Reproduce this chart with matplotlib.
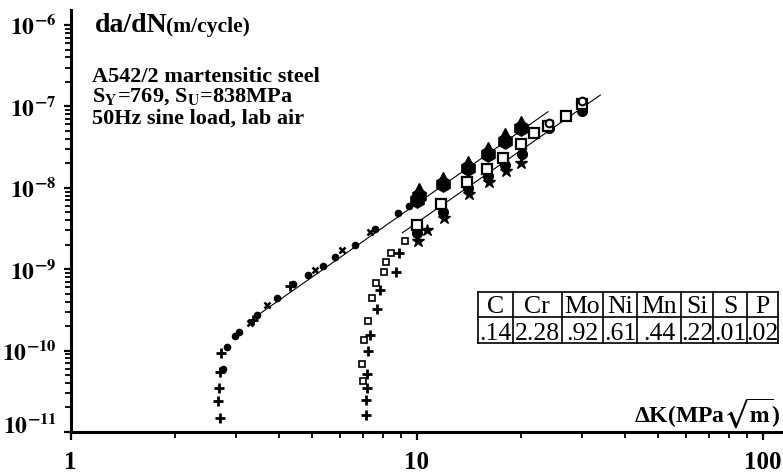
import matplotlib.pyplot as plt
import matplotlib.transforms as mtransforms
from matplotlib.ticker import FixedLocator, FixedFormatter, LogLocator, NullFormatter

# --- data (dK in MPa*sqrt(m), da/dN in m/cycle) ---
# left curve (lower threshold)
left_plus_dk = [2.70, 2.67, 2.69, 2.70, 2.73, 3.36, 4.31]
left_plus_da = [1.5e-11, 2.4e-11, 3.5e-11, 5.5e-11, 9.3e-11, 2.4e-10, 6.2e-10]
left_dot_dk = [2.76, 2.84, 2.99, 3.07, 3.47, 3.94, 4.40, 4.87, 5.35, 5.82, 6.64, 7.59, 8.86, 9.5]
left_dot_da = [6.0e-11, 1.12e-10, 1.5e-10, 1.7e-10, 2.7e-10, 4.4e-10, 6.6e-10, 8.5e-10,
               1.1e-9, 1.4e-9, 2.0e-9, 3.1e-9, 4.9e-9, 6.0e-9]
left_x_dk = [3.30, 3.69, 5.09, 6.08, 7.35]
left_x_da = [2.2e-10, 3.6e-10, 9.8e-10, 1.74e-9, 2.9e-9]
left_blob_dk = [10.0, 10.2, 11.9, 14.1, 16.1, 18.0, 20.1]
left_blob_da = [7.0e-9, 8.0e-9, 1.1e-8, 1.75e-8, 2.6e-8, 3.8e-8, 5.4e-8]

# right curve (higher threshold)
right_sq_dk = [7.0, 6.94, 7.07, 7.25, 7.46, 7.65, 8.06, 8.16, 8.46, 9.26]
right_sq_da = [4.2e-11, 6.9e-11, 1.35e-10, 2.3e-10, 4.4e-10, 6.8e-10, 9.3e-10, 1.23e-9, 1.6e-9, 2.2e-9]
right_plus_dk = [7.14, 7.14, 7.2, 7.2, 7.25, 7.34, 7.68, 7.85, 8.71, 8.93]
right_plus_da = [1.6e-11, 2.5e-11, 3.5e-11, 5.2e-11, 9.8e-11, 1.55e-10, 3.2e-10, 5.5e-10, 9.3e-10, 1.6e-9]
upper_sq_dk = [10.0, 11.8, 14.0, 16.0, 17.8, 20.0, 21.8, 24.0, 27.0, 30.0]
upper_sq_da = [3.5e-9, 6.3e-9, 1.17e-8, 1.7e-8, 2.3e-8, 3.5e-8, 4.7e-8, 5.8e-8, 7.6e-8, 1.07e-7]
upper_star_dk = [10.1, 10.7, 12.0, 14.2, 16.2, 18.1, 20.1]
upper_star_da = [2.2e-9, 3.0e-9, 4.3e-9, 8.3e-9, 1.17e-8, 1.6e-8, 2.0e-8]
upper_dot_dk = [10.0, 11.9, 14.1, 16.1, 18.0, 20.2, 24.2, 30.1]
upper_dot_da = [2.8e-9, 5.0e-9, 1.0e-8, 1.4e-8, 1.9e-8, 2.6e-8, 5.4e-8, 8.9e-8]
upper_ring_dk = [24.2, 30.0]
upper_ring_da = [6.3e-8, 1.17e-7]

# fitted straight lines
line1_dk = [3.4, 24.0]
line1_da = [2.55e-10, 8.6e-8]
line2_dk = [9.1, 34.0]
line2_da = [2.8e-9, 1.38e-7]

# chemical composition table
elements = ['C', 'Cr', 'Mo', 'Ni', 'Mn', 'Si', 'S', 'P']
wt_pct = ['.14', '2.28', '.92', '.61', '.44', '.22', '.01', '.02']

x_ticks = [1, 10, 100]
x_labels = ['1', '10', '100']
y_ticks = [1e-11, 1e-10, 1e-9, 1e-8, 1e-7, 1e-6]
y_labels = ['$10^{-11}$', '$10^{-10}$', '$10^{-9}$', '$10^{-8}$', '$10^{-7}$', '$10^{-6}$']

plt.rcParams['font.family'] = ['Liberation Serif', 'DejaVu Serif']
plt.rcParams['font.weight'] = 'bold'
plt.rcParams['mathtext.fontset'] = 'stix'
plt.rcParams['mathtext.default'] = 'bf'

W, H = 783, 474
fig = plt.figure(figsize=(W / 100, H / 100), dpi=100)
ax = fig.add_axes([70.5 / W, 42 / H, 712.5 / W, 422 / H])
ax.set_xscale('log')
ax.set_yscale('log')
ax.set_xlim(1, 10 ** (712.5 / 346))
ax.set_ylim(1e-11, 10 ** (-11 + 422 / 81.4))

for s in ['top', 'right']:
    ax.spines[s].set_visible(False)
for s in ['left', 'bottom']:
    ax.spines[s].set_linewidth(2.2)

ax.xaxis.set_major_locator(FixedLocator(x_ticks))
ax.xaxis.set_major_formatter(FixedFormatter(x_labels))
ax.xaxis.set_minor_locator(LogLocator(base=10, subs=range(2, 10)))
ax.xaxis.set_minor_formatter(NullFormatter())
ax.yaxis.set_major_locator(FixedLocator(y_ticks))
ax.yaxis.set_major_formatter(FixedFormatter(y_labels))
ax.yaxis.set_minor_locator(LogLocator(base=10, subs=range(2, 10)))
ax.yaxis.set_minor_formatter(NullFormatter())
ax.tick_params(axis='x', which='major', direction='out', length=5.5, width=1.6, labelsize=18, pad=8)
ax.tick_params(axis='y', which='major', direction='out', length=5, width=1.6, labelsize=17, pad=5)
ax.tick_params(which='minor', direction='out', length=4, width=1.3)

# lift the lowest y label a bit, like in the original
fig.canvas.draw()
low = ax.get_yticklabels()[0]
low.set_transform(low.get_transform() + mtransforms.ScaledTranslation(0, 6 / 72, fig.dpi_scale_trans))

# lines
ax.plot(line1_dk, line1_da, color='black', lw=0.8)
ax.plot(line2_dk, line2_da, color='black', lw=0.8)

# markers
ax.plot(left_plus_dk, left_plus_da, ls='none', marker='+', ms=7, mew=2, color='black')
ax.plot(left_dot_dk, left_dot_da, ls='none', marker='o', ms=4.5, color='black')
ax.plot(left_x_dk, left_x_da, ls='none', marker='x', ms=5, mew=1.8, color='black')
ax.plot(left_blob_dk, left_blob_da, ls='none', marker='h', ms=11, color='black')
ax.plot(left_blob_dk, [v * 1.2 for v in left_blob_da], ls='none', marker='^', ms=8, color='black')

ax.plot(right_sq_dk, right_sq_da, ls='none', marker='s', ms=5, mfc='white', mec='black', mew=1.2)
ax.plot(right_plus_dk, right_plus_da, ls='none', marker='+', ms=7, mew=2, color='black')
ax.plot(upper_star_dk, upper_star_da, ls='none', marker='*', ms=9, color='black')
ax.plot(upper_dot_dk, upper_dot_da, ls='none', marker='o', ms=7, color='black')
ax.plot(upper_sq_dk, upper_sq_da, ls='none', marker='s', ms=6.5, mfc='white', mec='black', mew=1.6)
ax.plot(upper_ring_dk, upper_ring_da, ls='none', marker='o', ms=5.5, mfc='white', mec='black', mew=1.5)

# overlay in pixel coordinates for the annotations and the table
ov = fig.add_axes([0, 0, 1, 1])
ov.set_xlim(0, W)
ov.set_ylim(H, 0)
ov.axis('off')

ov.text(95, 32, 'da/dN', fontsize=20, va='baseline')
ov.text(166, 32, '(m/cycle)', fontsize=15.5, va='baseline')
ov.text(92, 81.5, 'A542/2 martensitic steel', fontsize=16, va='baseline')
ov.text(92, 102, r'S$_\mathrm{\mathbf{Y}}$=769, S$_\mathrm{\mathbf{U}}$=838MPa', fontsize=16, va='baseline')
ov.text(92, 124, '50Hz sine load, lab air', fontsize=16, va='baseline')
ov.text(781, 421.5, r'ΔK(MPa$\sqrt{m}$)', fontsize=17, va='baseline', ha='right')

col_edges = [478.3, 512.7, 561.7, 602.7, 637.3, 680.7, 713.3, 746.7, 778.3]
row_edges = [291.7, 316.7, 343.3]
for xe in col_edges:
    ov.plot([xe, xe], [row_edges[0], row_edges[-1]], color='black', lw=1.2)
for ye in row_edges:
    ov.plot([col_edges[0], col_edges[-1]], [ye, ye], color='black', lw=1.2)
for i in range(len(elements)):
    xc = (col_edges[i] + col_edges[i + 1]) / 2
    ov.text(xc, 313, elements[i], fontsize=18.5, fontweight='normal', ha='center', va='baseline')
    ov.text(xc, 340, wt_pct[i], fontsize=18.5, fontweight='normal', ha='center', va='baseline')

fig.savefig('out.png', dpi=100)
